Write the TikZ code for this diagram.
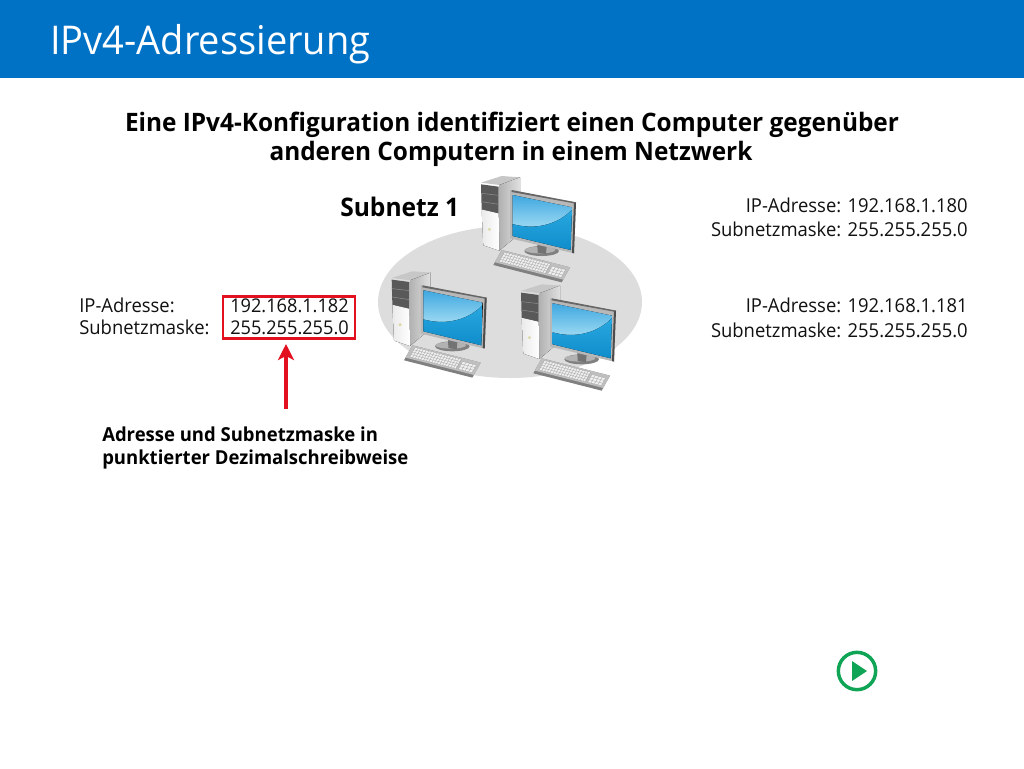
\documentclass[tikz,border=0pt]{standalone}
\usepackage{fontspec}
\setmainfont[FakeStretch=0.96]{Open Sans}
\usetikzlibrary{arrows.meta,calc}
\definecolor{headblue}{HTML}{0072C6}
\definecolor{ellgrey}{HTML}{DDDDDD}
\definecolor{boxred}{HTML}{E3101F}
\definecolor{playgreen}{HTML}{10A556}
\definecolor{txt}{HTML}{111111}
\definecolor{scrA}{HTML}{3AA5DF}
\definecolor{scrB}{HTML}{9AD8F2}
\definecolor{scrC}{HTML}{2AA8E0}
\definecolor{scrD}{HTML}{0E8CCB}
\tikzset{
  declare function={kx(\u,\v)=395+205*\u-25*\v; ky(\u,\v)=240+52*\u+45*\v;},
  lbl/.style={inner sep=0pt,text=txt,font=\fontsize{14.4}{14.4}\selectfont},
  vallbl/.style={inner sep=0pt,text=txt,font=\fontsize{14.2}{14.2}\selectfont},
  notelbl/.style={inner sep=0pt,text=black,font=\fontsize{14.45}{14.45}\selectfont\bfseries},
  headlbl/.style={inner sep=0pt,text=black,font=\fontsize{19.05}{19.05}\selectfont\bfseries},
  keygrid/.style={draw=black!35,line width=.25pt},
}
\newcommand{\pccomputer}[2]{%
\begin{scope}[shift={(#1,#2)},x=.25pt,y=-.25pt]
  % tower
  \fill[black!22] (333,38) -- (395,18) -- (450,22) -- (388,45) -- cycle;
  \fill[left color=black!30,right color=black!12] (388,45) -- (450,22) -- (450,190) -- (388,242) -- cycle;
  \fill[left color=black!8,right color=white] (335,118) -- (386,130) -- (388,242) -- (340,226) -- cycle;
  \fill[black!65] (333,43) -- (386,50) -- (386,130) -- (335,118) -- cycle;
  \draw[black!45,line width=.4pt] (334,70) -- (386,76) (334,95) -- (386,103);
  \fill[yellow!60!black!40] (358,178) circle (5);
  % stand
  \fill[black!50] (515,243) ellipse [x radius=52,y radius=15];
  \fill[black!30] (510,240) ellipse [x radius=46,y radius=10];
  \fill[black!55] (502,222) -- (530,228) -- (528,252) -- (503,248) -- cycle;
  % monitor
  \fill[black!28] (420,60) -- (618,97) -- (612,250) -- (420,205) -- cycle;
  \fill[black!70] (612,97) -- (618,97) -- (612,250) -- (606,248) -- cycle;
  \fill[black!60] (425,60) -- (618,97) -- (612,100) -- (425,66) -- cycle;
  \begin{scope}
    \clip (428,75) -- (606,112) -- (602,240) -- (428,198) -- cycle;
    \fill[top color=scrA,bottom color=scrB] (420,70) rectangle (610,170);
    \fill[top color=scrC,bottom color=scrD] (420,160) .. controls (500,185) and (570,160) .. (610,115) -- (610,245) -- (420,245) -- cycle;
  \end{scope}
  % keyboard
  \fill[black!50] ({kx(0,0)},{ky(0,0)}) -- ({kx(1,0)},{ky(1,0)}) -- ({kx(1,1)},{ky(1,1)}) -- ({kx(0,1)},{ky(0,1)}) -- cycle;
  \fill[black!25] ({kx(0,0)},{ky(0,0)}) -- ({kx(1,0)},{ky(1,0)}) -- ({kx(1,.82)},{ky(1,.82)}) -- ({kx(0,.82)},{ky(0,.82)}) -- cycle;
  \fill[black!6] ({kx(.05,.08)},{ky(.05,.08)}) -- ({kx(.72,.08)},{ky(.72,.08)}) -- ({kx(.72,.72)},{ky(.72,.72)}) -- ({kx(.05,.72)},{ky(.05,.72)}) -- cycle;
  \fill[black!6] ({kx(.76,.2)},{ky(.76,.2)}) -- ({kx(.96,.2)},{ky(.96,.2)}) -- ({kx(.96,.72)},{ky(.96,.72)}) -- ({kx(.76,.72)},{ky(.76,.72)}) -- cycle;
  \foreach \v in {.08,.24,.40,.56,.72}
    \draw[keygrid] ({kx(.05,\v)},{ky(.05,\v)}) -- ({kx(.72,\v)},{ky(.72,\v)});
  \foreach \u in {.05,.09,...,.73}
    \draw[keygrid] ({kx(\u,.08)},{ky(\u,.08)}) -- ({kx(\u,.72)},{ky(\u,.72)});
  \foreach \v in {.2,.37,.55,.72}
    \draw[keygrid] ({kx(.76,\v)},{ky(.76,\v)}) -- ({kx(.96,\v)},{ky(.96,\v)});
  \foreach \u in {.76,.81,.86,.91,.96}
    \draw[keygrid] ({kx(\u,.2)},{ky(\u,.2)}) -- ({kx(\u,.72)},{ky(\u,.72)});
\end{scope}}
\begin{document}
\begin{tikzpicture}[x=.75pt,y=-.75pt]
\useasboundingbox (0,0) rectangle (1024,768);
\fill[white] (0,0) rectangle (1024,768);
\fill[headblue] (0,0) rectangle (1024,78);
\node[anchor=base west,inner sep=0pt,text=white,font=\fontsize{29.7}{29.7}\selectfont] (title) at (50,54) {IPv4-Adressierung};
\node[headlbl,anchor=base] (head1) at (512,131) {Eine IPv4-Konfiguration identifiziert einen Computer gegenüber};
\node[headlbl,anchor=base] (head2) at (511,160) {anderen Computern in einem Netzwerk};
% subnet
\fill[ellgrey] (510,302) ellipse [x radius=132,y radius=76];
\node[anchor=base west,inner sep=0pt,text=black,font=\fontsize{19.2}{19.2}\selectfont\bfseries] (subnet) at (340,216) {Subnetz 1};
\pccomputer{370}{170}
\pccomputer{280.7}{265.3}
\pccomputer{410}{278.3}
% right labels
\node[lbl,anchor=base east] (r1) at (968,212) {IP-Adresse: 192.168.1.180};
\node[lbl,anchor=base east] (r2) at (968,236) {Subnetzmaske: 255.255.255.0};
\node[lbl,anchor=base east] (r3) at (968,312) {IP-Adresse: 192.168.1.181};
\node[lbl,anchor=base east] (r4) at (968,337) {Subnetzmaske: 255.255.255.0};
% left labels
\node[lbl,anchor=base west] (l1) at (79,312) {IP-Adresse:};
\node[lbl,anchor=base west] (l2) at (79,334) {Subnetzmaske:};
\node[vallbl,anchor=base east] (v1) at (349,312) {192.168.1.182};
\node[vallbl,anchor=base east] (v2) at (349,334) {255.255.255.0};
\node[draw=boxred,line width=2pt,minimum width=99pt,minimum height=31.5pt,inner sep=0pt] (box) at (289,317.5) {};
% note
\node[notelbl,anchor=base west] (n1) at (102,441) {Adresse und Subnetzmaske in};
\node[notelbl,anchor=base west] (n2) at (102,464) {punktierter Dezimalschreibweise};
\coordinate (arrowstart) at (286,409);
\coordinate (arrowend) at (286,344);
\draw[boxred,line width=2.7pt,-{Stealth[length=12pt,width=12pt,inset=3pt]}] (arrowstart) -- (arrowend);
% play button
\node[circle,draw=playgreen,line width=2.6pt,minimum size=28pt,inner sep=0pt] (play) at (857,671) {};
\fill[playgreen] (852,661) -- (867,671) -- (852,681) -- cycle;
\end{tikzpicture}
\end{document}
